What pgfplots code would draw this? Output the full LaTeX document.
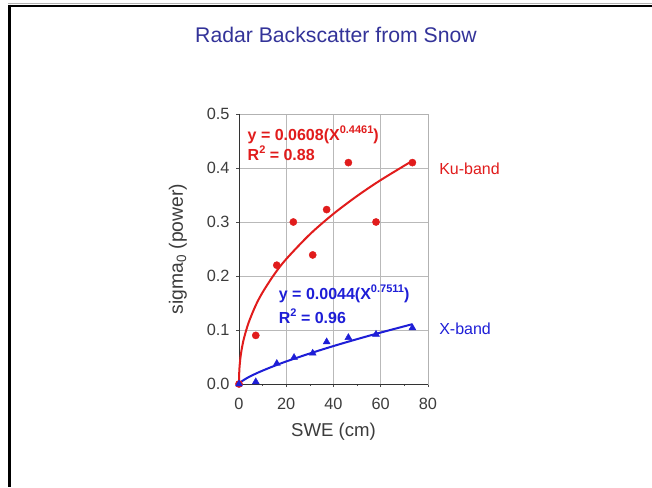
\documentclass[border=0pt]{standalone}
\usepackage{pgfplots}
\pgfplotsset{compat=1.18}
\usepackage{fontspec}
\setmainfont{Liberation Sans}
\definecolor{kured}{RGB}{225,28,28}
\definecolor{xblue}{RGB}{30,30,215}
\definecolor{titleblue}{RGB}{51,51,153}
\definecolor{ticktxt}{RGB}{60,60,60}
\newcommand{\sups}[1]{\raisebox{0.42em}{\fontsize{11}{11}\selectfont #1}}
\begin{document}
\begin{tikzpicture}[x=1pt,y=1pt]
\path[use as bounding box, fill=white] (0,0) rectangle (652,487);
\draw[gray!60, line width=1pt] (8,483) -- (652,483);
\draw[black, line width=2.6pt] (8,481) -- (652,481);
\draw[black, line width=2.6pt] (9.3,482.3) -- (9.3,0);
\node[text=titleblue, font=\fontsize{21.2}{24}\selectfont] at (336,452) {Radar Backscatter from Snow};
\begin{axis}[
  at={(239pt,103pt)}, anchor=south west,
  scale only axis, width=189pt, height=270pt,
  xmin=0, xmax=80, ymin=0, ymax=0.5,
  xtick={0,20,40,60,80}, minor xtick={10,30,50,70},
  ytick={0,0.1,0.2,0.3,0.4,0.5},
  xtick pos=bottom, ytick pos=left,
  tick align=outside,
  major tick length=3pt, minor tick length=2pt,
  tick style={black!70, line width=0.6pt},
  grid=major, major grid style={gray!55, line width=0.8pt},
  axis line style={gray!60, line width=0.8pt},
  /pgf/number format/assume math mode=true,
  y tick label style={/pgf/number format/fixed, /pgf/number format/fixed zerofill, /pgf/number format/precision=1, xshift=-3pt},
  x tick label style={yshift=-8pt},
  tick label style={font=\fontsize{16.3}{17}\selectfont, text=ticktxt},
  xlabel={SWE (cm)},
  xlabel style={font=\fontsize{18.6}{19}\selectfont, text=ticktxt, at={(axis description cs:0.5,-0.178)}, anchor=center},
  ylabel={sigma\textsubscript{0} (power)},
  ylabel style={font=\fontsize{19.3}{20}\selectfont, text=ticktxt, at={(axis description cs:-0.323,0.5)}, anchor=center},
  clip=false,
]
% axis lines left and bottom in black
\draw[black!80, line width=0.8pt] (axis cs:0,0.5) -- (axis cs:0,0) -- (axis cs:80,0);
% fit curves
\addplot[kured, line width=2pt, smooth] coordinates {
 (0,0) (0.01,0.0078) (0.05,0.0160) (0.2,0.0297) (0.5,0.0446) (1,0.0608) (2,0.0828) (4,0.1128)
 (7,0.1449) (10,0.1698) (15,0.2035) (20,0.2314) (30,0.2772) (40,0.3152) (50,0.3482)
 (60,0.3777) (73.4,0.4133)};
\addplot[xblue, line width=2pt, smooth] coordinates {
 (0,0) (0.5,0.0026) (1,0.0044) (2,0.0074) (4,0.0125) (7,0.0190) (10,0.0248) (15,0.0336)
 (20,0.0418) (30,0.0566) (40,0.0703) (50,0.0831) (60,0.0953) (73.4,0.1108)};
% data
\addplot[only marks, mark=*, mark size=3.6pt, kured, mark options={draw=kured, fill=kured}] coordinates {
 (0,0) (7.1,0.09) (16,0.22) (23,0.30) (31.2,0.239) (37.1,0.323) (46.3,0.41) (58,0.30) (73.4,0.41)};
\addplot[only marks, mark=triangle*, mark size=4pt, xblue, mark options={draw=xblue, fill=xblue}] coordinates {
 (0,0) (7.1,0.004) (16,0.038) (23.3,0.049) (31.2,0.057) (37.1,0.078) (46.3,0.086) (58,0.092) (73.4,0.104)};
% annotations
\node[anchor=west, text=kured, font=\bfseries\fontsize{16}{17}\selectfont, inner sep=0pt] at (axis cs:3.6,0.461) {y = 0.0608(X\sups{0.4461})};
\node[anchor=west, text=kured, font=\bfseries\fontsize{16}{17}\selectfont, inner sep=0pt] at (axis cs:3.6,0.428) {R\sups{2} = 0.88};
\node[anchor=west, text=xblue, font=\bfseries\fontsize{16}{17}\selectfont, inner sep=0pt] at (axis cs:16.8,0.1667) {y = 0.0044(X\sups{0.7511})};
\node[anchor=west, text=xblue, font=\bfseries\fontsize{16}{17}\selectfont, inner sep=0pt] at (axis cs:16.8,0.126) {R\sups{2} = 0.96};
\node[anchor=west, text=kured, font=\fontsize{16}{17}\selectfont, inner sep=0pt] at (axis cs:84.7,0.398) {Ku-band};
\node[anchor=west, text=xblue, font=\fontsize{16}{17}\selectfont, inner sep=0pt] at (axis cs:84.7,0.102) {X-band};
\end{axis}
\end{tikzpicture}
\end{document}
